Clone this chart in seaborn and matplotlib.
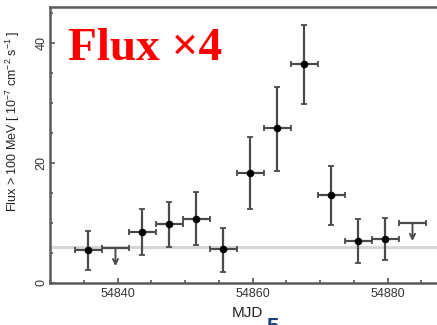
import matplotlib
matplotlib.use("Agg")
import matplotlib.pyplot as plt
import seaborn as sns
import pandas as pd
from matplotlib.ticker import MultipleLocator

# ---- data ----
mjd = [54835.7, 54843.7, 54847.7, 54851.7, 54855.7, 54859.7, 54863.7,
       54867.7, 54871.7, 54875.7, 54879.7]
flux = [5.5, 8.5, 9.8, 10.7, 5.7, 18.3, 25.8, 36.5, 14.7, 7.0, 7.3]
err_hi = [3.2, 3.8, 3.7, 4.5, 3.5, 6.0, 6.9, 6.5, 4.8, 3.7, 3.5]
err_lo = [3.3, 3.8, 3.8, 4.4, 3.9, 6.0, 7.1, 6.7, 5.0, 3.7, 3.5]
bin_half = [2.0] * len(mjd)
ul_mjd = [54839.7, 54883.7]
ul_flux = [5.8, 10.0]
ul_arrow = [3.0, 3.0]
baseline = 6.0
xticks = [54840, 54860, 54880]
yticks = [0, 20, 40]

sns.set_style("ticks")
plt.rcParams["font.family"] = ["Liberation Sans", "DejaVu Sans"]
plt.rcParams["mathtext.default"] = "regular"

fig = plt.figure(figsize=(4.37, 3.25), dpi=100)
W, H = 437, 325
ax = fig.add_axes([50 / W, 42 / H, 405 / W, 276 / H])

ecol = "#4a4a4a"
ax.axhline(baseline, color="#d6d6d6", lw=2.2, zorder=1)

ax.errorbar(mjd, flux, xerr=bin_half, yerr=[err_lo, err_hi], fmt="none",
            ecolor=ecol, elinewidth=1.6, capsize=2.5, capthick=1.3, zorder=2)
df = pd.DataFrame({"MJD": mjd, "Flux": flux})
sns.scatterplot(data=df, x="MJD", y="Flux", ax=ax, color="black", s=30,
                edgecolor="black", linewidth=0, zorder=3)

ax.errorbar(ul_mjd, ul_flux, xerr=[2.0] * len(ul_mjd), fmt="none",
            ecolor=ecol, elinewidth=1.6, capsize=2.5, capthick=1.3, zorder=2)
for x, y, d in zip(ul_mjd, ul_flux, ul_arrow):
    ax.annotate("", xy=(x, y - d), xytext=(x, y),
                arrowprops=dict(arrowstyle="->", color=ecol, lw=1.4,
                                shrinkA=0, shrinkB=0, mutation_scale=9))

ax.set_xlim(54830, 54890)
ax.set_ylim(0, 46)
ax.set_xticks(xticks)
ax.set_yticks(yticks)
ax.xaxis.set_minor_locator(MultipleLocator(5))
ax.yaxis.set_minor_locator(MultipleLocator(5))
ax.tick_params(which="both", direction="in", colors="#555555",
               labelcolor="#333333", labelsize=9)
ax.tick_params(which="major", length=3.5, width=1.2)
ax.tick_params(which="minor", length=2.5, width=1.2)
ax.tick_params(axis="y", labelrotation=90, pad=2)
for lab in ax.get_yticklabels():
    lab.set_va("center")

for s in ["left", "bottom", "top"]:
    ax.spines[s].set_color("#5a5a5a")
    ax.spines[s].set_linewidth(1.8)
ax.spines["right"].set_visible(False)

ax.set_xlabel("MJD", fontsize=11, color="#222222")
ax.xaxis.set_label_coords((247 - 50) / 405, -(306 - 283) / 276)
ax.set_ylabel("Flux > 100 MeV [ 10$^{-7}$ cm$^{-2}$ s$^{-1}$ ]",
              fontsize=9, color="#222222")
ax.yaxis.set_label_coords(-(50 - 22) / 405, (283 - 121) / 276)

fig.text(68 / W, 1 - 60 / H, "Flux \u00d74", color="#ff0000",
         fontsize=34, fontweight="bold", family=["Liberation Serif", "DejaVu Serif"],
         ha="left", va="baseline")
fig.text(266 / W, 1 - 317 / H, "5", color="#1a3d7c", fontsize=16,
         fontweight="bold", ha="left", va="top")

fig.savefig("out.png", dpi=100)
